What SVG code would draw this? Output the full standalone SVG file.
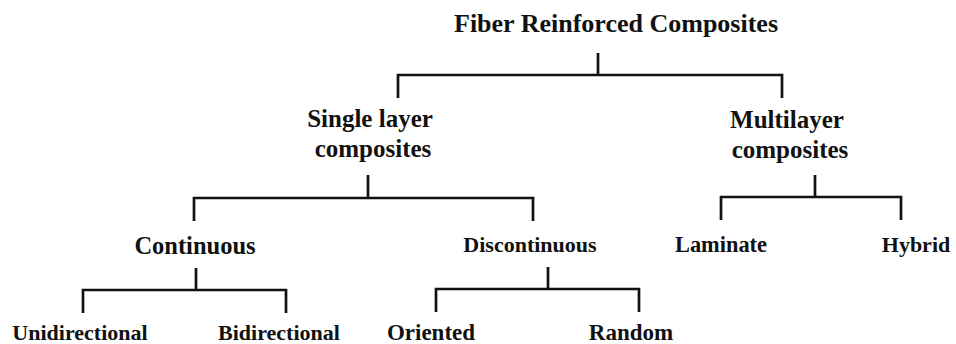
<svg xmlns="http://www.w3.org/2000/svg" width="956" height="344" viewBox="0 0 956 344">
<style>
text{font-family:"Liberation Serif","Times New Roman",serif;font-weight:bold;fill:#111;text-anchor:middle}
.l{fill:none;stroke:#111;stroke-width:2.7;stroke-linejoin:miter;stroke-linecap:butt}
</style>
<rect width="956" height="344" fill="#fff"/>
<g id="connectors">
<path class="l" d="M598,53V75M398,98V75H782V98"/>
<path class="l" d="M368,175V198M194,221V198H533V221"/>
<path class="l" d="M815,175V197M721,220V197H901V220"/>
<path class="l" d="M196,268V290M83,313V290H286V313"/>
<path class="l" d="M548,267V289M436,312V289H639V312"/>
</g>
<g id="root"><text x="616" y="32" font-size="26">Fiber Reinforced Composites</text></g>
<g id="single"><text x="370" y="127" font-size="25">Single layer</text><text x="373" y="157" font-size="25">composites</text></g>
<g id="multi"><text x="787" y="128" font-size="25">Multilayer</text><text x="790" y="158" font-size="25">composites</text></g>
<g id="continuous"><text x="195" y="254" font-size="24.5">Continuous</text></g>
<g id="discontinuous"><text x="530" y="252" font-size="22">Discontinuous</text></g>
<g id="laminate"><text x="721" y="252" font-size="22.4">Laminate</text></g>
<g id="hybrid"><text x="916" y="252" font-size="22">Hybrid</text></g>
<g id="unidirectional"><text x="80" y="340" font-size="22">Unidirectional</text></g>
<g id="bidirectional"><text x="279" y="340" font-size="22">Bidirectional</text></g>
<g id="oriented"><text x="431" y="340" font-size="23">Oriented</text></g>
<g id="random"><text x="631" y="340" font-size="23">Random</text></g>
</svg>
